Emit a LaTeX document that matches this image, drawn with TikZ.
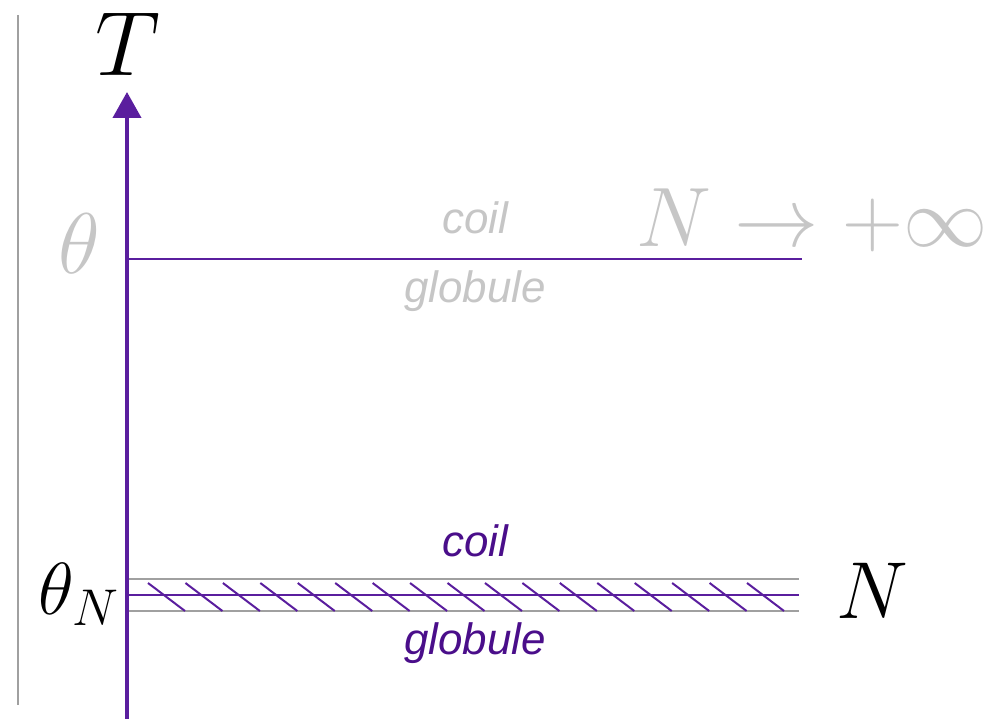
\RequirePackage{fix-cm}
\documentclass[tikz,border=0pt]{standalone}
\usepackage{fontspec}
\setsansfont{Liberation Sans}
\usepackage{tikz}
\usetikzlibrary{arrows.meta}
\definecolor{axiscolor}{HTML}{5A1E9E}
\definecolor{phasecolor}{HTML}{4A0E8A}
\definecolor{fadecolor}{HTML}{C6C6C6}
\definecolor{rulecolor}{HTML}{A0A0A0}

\begin{document}
\begin{tikzpicture}[
    x=0.02cm, y=-0.02cm,
    mathlabel/.style={inner sep=0pt, font=\fontsize{#1}{#1}\selectfont},
    phase/.style={inner sep=0pt, anchor=base, text=#1, font=\fontsize{25}{25}\selectfont\sffamily\itshape},
    axis/.style={-{Triangle[length=0.52cm, width=0.56cm]}, line width=0.08cm, axiscolor},
    trans/.style={line width=0.04cm, axiscolor},
    band/.style={line width=0.04cm, rulecolor},
  ]
  \useasboundingbox (0,0) rectangle (1001,719);

  % frame rule on the left
  \coordinate (ruletop) at (18,15);
  \coordinate (rulebot) at (18,705);
  \draw[rulecolor, line width=0.03cm] (ruletop) -- (rulebot);

  % temperature axis
  \coordinate (origin) at (127,719);
  \coordinate (axtop) at (127,92);
  \draw[axis] (origin) -- (axtop);
  \node[mathlabel=52] (T) at (128,44) {$T$};

  % infinite chain
  \coordinate (thL) at (129,259);
  \coordinate (thR) at (802,259);
  \draw[trans] (thL) -- (thR);
  \node[mathlabel=49, text=fadecolor] (theta) at (79,244) {$\theta$};
  \node[mathlabel=48, text=fadecolor, anchor=base west] (limit) at (636,247) {$N\to+\infty$};
  \node[phase=fadecolor] (coilup) at (475,234) {coil};
  \node[phase=fadecolor] (globup) at (475,303) {globule};

  % finite chain
  \coordinate (bandtopL) at (129,579);
  \coordinate (bandtopR) at (799,579);
  \coordinate (bandbotL) at (129,611);
  \coordinate (bandbotR) at (799,611);
  \coordinate (thNL) at (129,595);
  \coordinate (thNR) at (799,595);
  \draw[band] (bandtopL) -- (bandtopR);
  \draw[band] (bandbotL) -- (bandbotR);
  \draw[trans] (thNL) -- (thNR);
  \foreach \k in {0,...,16}
    \draw[trans] ({148+37.44*\k},583) -- ({185+37.44*\k},611);
  \node[mathlabel=42, anchor=base west] (thetaN) at (38,614) {$\theta_N$};
  \node[mathlabel=46, anchor=base west] (Nlab) at (836,618) {$N$};
  \node[phase=phasecolor] (coildn) at (475,556) {coil};
  \node[phase=phasecolor] (globdn) at (475,654) {globule};
\end{tikzpicture}
\end{document}
